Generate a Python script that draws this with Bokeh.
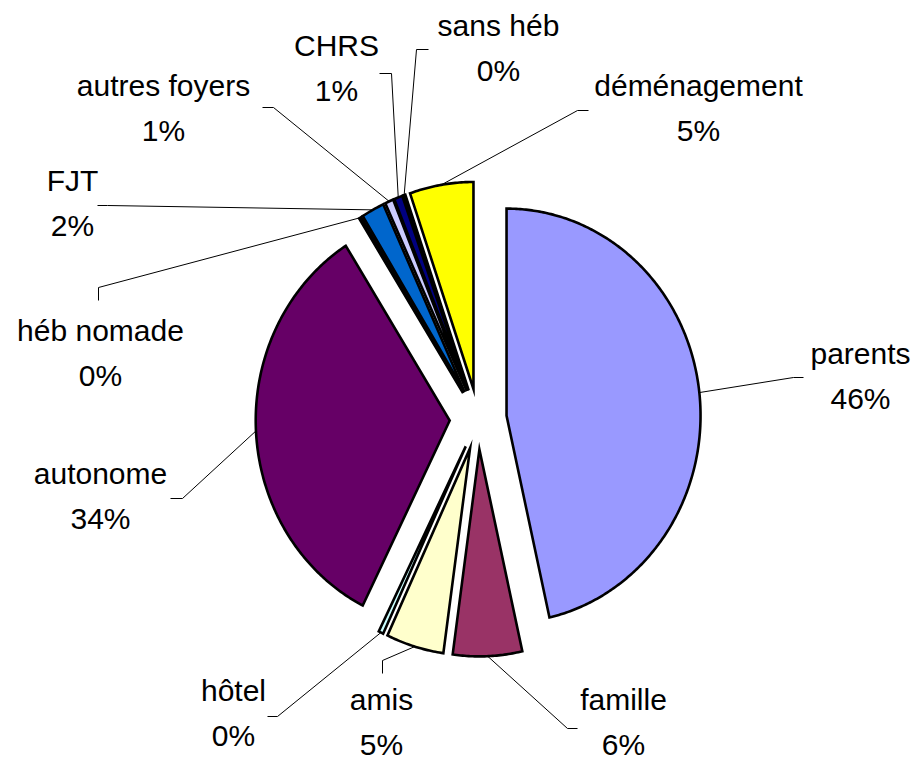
import numpy as np
from bokeh.plotting import figure
from bokeh.models import Range1d, ColumnDataSource
from bokeh.core.properties import value
from bokeh.embed import file_html
from bokeh.resources import INLINE

# ---- data ----
categories = ["parents", "famille", "amis", "hôtel", "autonome", "héb nomade",
              "FJT", "autres foyers", "CHRS", "sans héb", "déménagement"]
shares = [46.45, 5.75, 4.8, 0.4, 33.6, 0.2, 1.9, 0.7, 0.7, 0.2, 5.3]

# ---- styles ----
colors = ["#9999FF", "#993366", "#FFFFCC", "#CCFFFF", "#660066", "#FF8080",
          "#0066CC", "#CCCCFF", "#000080", "#FF00FF", "#FFFF00"]

# ---- layout (screen pixels of the page) ----
W, H = 917, 761
CX, CY = 477.7, 418.5          # pie centre
RX, RY = 194.0, 207.0          # radii
EXPLODE = 0.147                # explosion as a fraction of the radius
LINE_GAP = 45                  # distance between the name and the percent line

# label centre (name line) and leader elbow / end, per category
label_pos = {
    "parents": (860, 353), "famille": (623, 699), "amis": (381, 699),
    "hôtel": (233, 690), "autonome": (100, 473), "héb nomade": (100, 330),
    "FJT": (72, 180), "autres foyers": (163, 85), "CHRS": (336, 45),
    "sans héb": (498, 25), "déménagement": (698, 85),
}
leader_pts = {
    "parents": [(793, 377), (803, 377)], "famille": [(567, 728), (577, 728)],
    "amis": [(382, 660), (382, 673)], "hôtel": [(277, 716), (267, 716)],
    "autonome": [(182, 498), (170, 498)], "héb nomade": [(98, 287), (98, 300)],
    "FJT": [(107, 205), (97, 205)], "autres foyers": [(273, 107), (262, 107)],
    "CHRS": [(391, 73), (379, 73)], "sans héb": [(416, 49), (428, 49)],
    "déménagement": [(577, 110), (588, 110)],
}


def X(sx):
    return sx


def Y(sy):
    return H - sy


p = figure(width=W, height=H, x_range=Range1d(0, W), y_range=Range1d(0, H),
           output_backend="svg", toolbar_location=None, min_border=0,
           x_axis_type=None, y_axis_type=None)
p.outline_line_color = None
p.background_fill_color = "white"
p.border_fill_color = "white"

total = float(sum(shares))
fr = np.array(shares) / total
ends_cum = np.cumsum(fr)
starts_cum = ends_cum - fr

xs, ys = [], []
lead_xs, lead_ys = [], []
for i, cat in enumerate(categories):
    a0 = np.pi / 2 - 2 * np.pi * starts_cum[i]
    a1 = np.pi / 2 - 2 * np.pi * ends_cum[i]
    mid = 0.5 * (a0 + a1)
    vx = CX + EXPLODE * RX * np.cos(mid)
    vy = CY - EXPLODE * RY * np.sin(mid)
    n = max(4, int(abs(a0 - a1) / 0.01))
    t = np.linspace(a0, a1, n)
    px = np.concatenate([[vx], vx + RX * np.cos(t)])
    py = np.concatenate([[vy], vy - RY * np.sin(t)])
    xs.append(list(X(px)))
    ys.append(list(Y(py)))
    # leader from the arc at the slice's mid angle
    sx0 = vx + RX * np.cos(mid)
    sy0 = vy - RY * np.sin(mid)
    pts = [(sx0, sy0)] + leader_pts[cat]
    lead_xs.append([X(a) for a, b in pts])
    lead_ys.append([Y(b) for a, b in pts])

p.patches(xs=xs, ys=ys, fill_color=colors, line_color="black",
          line_width=2.6, line_join="miter")
p.multi_line(xs=lead_xs, ys=lead_ys, line_color="black", line_width=1)

name_src = ColumnDataSource(dict(
    x=[X(label_pos[c][0]) for c in categories],
    y=[Y(label_pos[c][1]) for c in categories],
    t=categories))
pct_src = ColumnDataSource(dict(
    x=[X(label_pos[c][0]) for c in categories],
    y=[Y(label_pos[c][1] + LINE_GAP) for c in categories],
    t=[f"{int(round(100 * f))}%" for f in fr]))

for src in (name_src, pct_src):
    p.text(x="x", y="y", text="t", source=src,
           text_font=value("Liberation Sans"), text_font_size="30px",
           text_align="center", text_baseline="middle", text_color="black")

open("out.html", "w").write(file_html(p, INLINE))
